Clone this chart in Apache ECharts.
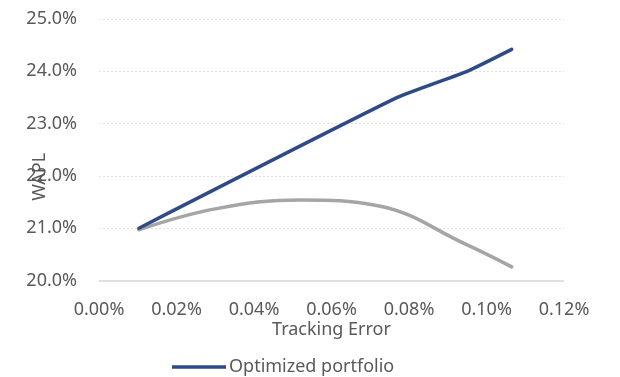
<!DOCTYPE html>
<html>
<head>
<meta charset="utf-8">
<script src="https://cdn.jsdelivr.net/npm/echarts@6/dist/echarts.min.js"></script>
<style>
  html, body { margin: 0; padding: 0; background: #fff; }
  #chart { width: 620px; height: 377px; }
</style>
</head>
<body>
<div id="chart"></div>
<script>
// Tracking error (%) vs WAPL (%)
const optimizedTE = [0.0103, 0.077, 0.095, 0.1065];
const optimizedWAPL = [21.0, 23.5, 24.0, 24.42];

const referenceTE = [0.0103, 0.03, 0.052, 0.072, 0.095, 0.1065];
const referenceWAPL = [20.97, 21.37, 21.54, 21.43, 20.68, 20.26];

const xTicks = { min: 0, max: 0.12, step: 0.02 };
const yTicks = { min: 20, max: 25, step: 1 };

const legendNames = ['Optimized portfolio'];

const pairs = (xs, ys) => xs.map((x, i) => [x, ys[i]]);

const textColor = '#595959';
const font = 'Noto Sans';

const chart = echarts.init(document.getElementById('chart'), null, { renderer: 'canvas' });
chart.setOption({
  animation: false,
  grid: { left: 99, right: 56, top: 19, bottom: 96.5, containLabel: false },
  legend: {
    data: legendNames,
    left: 167,
    top: 353,
    icon: 'rect',
    itemWidth: 54,
    itemHeight: 3.5,
    itemGap: 10,
    textStyle: { color: textColor, fontFamily: font, fontSize: 18, padding: [0, 0, 0, -2] }
  },
  xAxis: {
    type: 'value',
    min: xTicks.min,
    max: xTicks.max,
    interval: xTicks.step,
    name: 'Tracking Error',
    nameLocation: 'middle',
    nameGap: 40,
    nameMoveOverlap: false,
    nameTextStyle: { color: textColor, fontFamily: font, fontSize: 18 },
    axisLine: { show: false },
    axisTick: { show: false },
    splitLine: { show: false },
    axisLabel: {
      color: textColor, fontFamily: font, fontSize: 18, margin: 20,
      formatter: v => v.toFixed(2) + '%'
    }
  },
  yAxis: {
    type: 'value',
    min: yTicks.min,
    max: yTicks.max,
    interval: yTicks.step,
    name: 'WAPL',
    nameLocation: 'middle',
    nameRotate: 90,
    nameGap: 50,
    nameMoveOverlap: false,
    nameTextStyle: { color: textColor, fontFamily: font, fontSize: 18, padding: [0, 54, 0, 0] },
    axisLine: { show: false },
    axisTick: { show: false },
    splitLine: {
      show: true,
      lineStyle: { color: '#e3e3e3', width: 1, type: [2, 2] }
    },
    axisLabel: {
      color: textColor, fontFamily: font, fontSize: 18, margin: 22,
      formatter: v => v.toFixed(1) + '%'
    }
  },
  series: [
    {
      // baseline along the bottom of the plot
      name: 'axisBase',
      type: 'line',
      silent: true,
      data: [],
      markLine: {
        silent: true,
        symbol: 'none',
        label: { show: false },
        lineStyle: { color: '#d9d9d9', width: 1.5, type: 'solid' },
        data: [[{ coord: [xTicks.min, yTicks.min] }, { coord: [xTicks.max, yTicks.min] }]]
      }
    },
    {
      name: 'Reference',
      type: 'line',
      data: pairs(referenceTE, referenceWAPL),
      smooth: 0.4,
      showSymbol: false,
      lineStyle: { color: '#a5a5a5', width: 3.5, cap: 'round' },
      itemStyle: { color: '#a5a5a5' },
      z: 3
    },
    {
      name: 'Optimized portfolio',
      type: 'line',
      data: pairs(optimizedTE, optimizedWAPL),
      smooth: 0.15,
      showSymbol: false,
      lineStyle: { color: '#2f4b87', width: 3.5, cap: 'round', join: 'round' },
      itemStyle: { color: '#2f4b87' },
      z: 4
    }
  ]
});
</script>
</body>
</html>
